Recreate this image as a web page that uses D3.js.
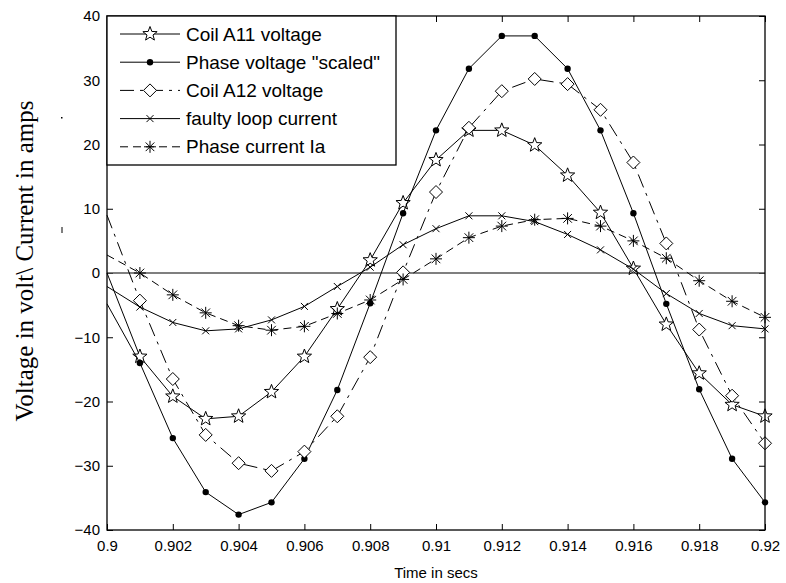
<!DOCTYPE html>
<html lang="en">
<head>
    <meta charset="UTF-8">
    <title>Coil voltages and currents</title>
    <script src="https://d3js.org/d3.v7.min.js"></script>
    <style>
        body { margin: 0; background: white; }
        svg { display: block; }
        .tick text { font-family: Arial, "Liberation Sans", sans-serif; font-size: 15px; fill: #000; }
        .legend text { font-family: Arial, "Liberation Sans", sans-serif; font-size: 19px; }
    </style>
</head>
<body>
<svg id="chart"></svg>
<script>
    // time axis (secs)
    const time = [0.900, 0.901, 0.902, 0.903, 0.904, 0.905, 0.906, 0.907, 0.908, 0.909, 0.910,
                  0.911, 0.912, 0.913, 0.914, 0.915, 0.916, 0.917, 0.918, 0.919, 0.920];

    const coilA11 = [0.0, -13.0, -19.2, -22.7, -22.3, -18.5, -13.0, -5.6, 2.0, 10.9, 17.6,
                     22.2, 22.2, 19.9, 15.2, 9.4, 0.7, -8.0, -15.6, -20.5, -22.3];
    const phaseVoltage = [-4.8, -14.0, -25.7, -34.1, -37.6, -35.7, -28.9, -18.2, -4.7, 9.3, 22.2,
                          31.8, 36.9, 36.9, 31.8, 22.2, 9.3, -4.8, -18.1, -28.9, -35.7];
    const coilA12 = [9.0, -4.3, -16.5, -25.2, -29.6, -30.8, -27.8, -22.3, -13.1, 0.1, 12.6,
                     22.6, 28.3, 30.2, 29.4, 25.4, 17.2, 4.6, -8.8, -19.1, -26.5];
    const faultyLoop = [-2.1, -5.3, -7.7, -9.0, -8.7, -7.3, -5.2, -2.1, 0.9, 4.4, 6.9,
                        8.9, 8.9, 8.0, 6.0, 3.6, 0.6, -3.2, -6.3, -8.2, -8.7];
    const phaseCurrent = [2.8, 0.0, -3.4, -6.2, -8.2, -8.9, -8.3, -6.3, -4.2, -1.0, 2.2,
                          5.5, 7.3, 8.3, 8.5, 7.3, 5.0, 2.3, -1.2, -4.4, -6.9];

    const xTicks = [0.9, 0.902, 0.904, 0.906, 0.908, 0.91, 0.912, 0.914, 0.916, 0.918, 0.92];
    const yTicks = [-40, -30, -20, -10, 0, 10, 20, 30, 40];

    const seriesNames = ['Coil A11 voltage', 'Phase voltage "scaled"', 'Coil A12 voltage',
                         'faulty loop current', 'Phase current Ia'];

    // marker shapes
    function starPath(r) {
        const pts = [];
        for (let i = 0; i < 10; i++) {
            const rr = i % 2 === 0 ? r : r * 0.42;
            const a = -Math.PI / 2 + i * Math.PI / 5;
            pts.push([Math.cos(a) * rr, Math.sin(a) * rr]);
        }
        return 'M' + pts.map(p => p[0].toFixed(2) + ',' + p[1].toFixed(2)).join('L') + 'Z';
    }
    function diamondPath(r) { return `M0,${-r}L${r},0L0,${r}L${-r},0Z`; }
    function xPath(r) { return `M${-r},${-r}L${r},${r}M${-r},${r}L${r},${-r}`; }
    function asteriskPath(r) {
        const d = r * 0.72;
        return `M0,${-r}L0,${r}M${-r},0L${r},0M${-d},${-d}L${d},${d}M${-d},${d}L${d},${-d}`;
    }

    const series = [
        { name: seriesNames[0], values: coilA11, dash: null, marker: 'star' },
        { name: seriesNames[1], values: phaseVoltage, dash: null, marker: 'dot' },
        { name: seriesNames[2], values: coilA12, dash: '14,6,3,6', marker: 'diamond' },
        { name: seriesNames[3], values: faultyLoop, dash: null, marker: 'x' },
        { name: seriesNames[4], values: phaseCurrent, dash: '8,5', marker: 'asterisk' }
    ];

    const width = 786, height = 583;
    const margin = { left: 107, right: 21, top: 16, bottom: 53 };

    const svg = d3.select('#chart').attr('width', width).attr('height', height);

    const x = d3.scaleLinear().domain([0.9, 0.92]).range([margin.left, width - margin.right]);
    const y = d3.scaleLinear().domain([-40, 40]).range([height - margin.bottom, margin.top]);

    const fmt = d => String(+d.toFixed(3));

    // axes with inward ticks
    svg.append('g')
        .attr('transform', `translate(0,${y(-40)})`)
        .call(d3.axisBottom(x).tickValues(xTicks).tickFormat(fmt).tickSizeInner(-6).tickSizeOuter(0).tickPadding(10));
    svg.append('g')
        .attr('transform', `translate(0,${y(40)})`)
        .call(d3.axisTop(x).tickValues(xTicks).tickFormat('').tickSizeInner(-6).tickSizeOuter(0));
    svg.append('g')
        .attr('transform', `translate(${x(0.9)},0)`)
        .call(d3.axisLeft(y).tickValues(yTicks).tickFormat(d3.format('d')).tickSizeInner(-6).tickSizeOuter(0).tickPadding(7));
    svg.append('g')
        .attr('transform', `translate(${x(0.92)},0)`)
        .call(d3.axisRight(y).tickValues(yTicks).tickFormat('').tickSizeInner(-6).tickSizeOuter(0));

    svg.selectAll('.domain').remove();
    svg.selectAll('.tick line').attr('stroke', '#000');

    // zero line
    svg.append('line')
        .attr('x1', x(0.9)).attr('x2', x(0.92))
        .attr('y1', y(0)).attr('y2', y(0))
        .attr('stroke', '#555').attr('stroke-width', 1.3);

    const line = d3.line().x((d, i) => x(time[i])).y(d => y(d));

    function drawMarker(sel, kind) {
        if (kind === 'dot') {
            sel.append('circle').attr('r', 3.2).attr('fill', '#000');
        } else if (kind === 'star') {
            sel.append('path').attr('d', starPath(7.5)).attr('fill', 'white').attr('stroke', '#000').attr('stroke-width', 1);
        } else if (kind === 'diamond') {
            sel.append('path').attr('d', diamondPath(6.5)).attr('fill', 'white').attr('stroke', '#000').attr('stroke-width', 1);
        } else if (kind === 'x') {
            sel.append('path').attr('d', xPath(3.5)).attr('fill', 'none').attr('stroke', '#000').attr('stroke-width', 1);
        } else if (kind === 'asterisk') {
            sel.append('path').attr('d', asteriskPath(6)).attr('fill', 'none').attr('stroke', '#000').attr('stroke-width', 1);
        }
    }

    const plot = svg.append('g');
    series.forEach(s => {
        plot.append('path')
            .datum(s.values)
            .attr('d', line)
            .attr('fill', 'none')
            .attr('stroke', '#000')
            .attr('stroke-width', 1)
            .attr('stroke-dasharray', s.dash);
        // the original shows no marker on the left axis edge
        plot.selectAll(null)
            .data(s.values.map((v, i) => ({ t: time[i], v })).filter(d => d.t > 0.9))
            .enter().append('g')
            .attr('transform', d => `translate(${x(d.t)},${y(d.v)})`)
            .each(function() { drawMarker(d3.select(this), s.marker); });
    });

    // frame
    svg.append('rect')
        .attr('x', x(0.9)).attr('y', y(40))
        .attr('width', x(0.92) - x(0.9)).attr('height', y(-40) - y(40))
        .attr('fill', 'none').attr('stroke', '#000').attr('stroke-width', 1.3);

    // legend
    const legend = svg.append('g').attr('class', 'legend');
    legend.append('rect')
        .attr('x', x(0.9)).attr('y', y(40))
        .attr('width', 289).attr('height', 149)
        .attr('fill', 'white').attr('stroke', '#000').attr('stroke-width', 1.3);
    series.forEach((s, i) => {
        const ly = 34 + i * 28.2;
        const row = legend.append('g').attr('transform', `translate(0,${ly})`);
        row.append('line')
            .attr('x1', 120).attr('x2', 180).attr('y1', 0).attr('y2', 0)
            .attr('stroke', '#000').attr('stroke-width', 1)
            .attr('stroke-dasharray', s.dash);
        drawMarker(row.append('g').attr('transform', 'translate(150,0)'), s.marker);
        row.append('text')
            .attr('x', 186).attr('y', 0).attr('dy', '0.35em')
            .text(s.name);
    });

    // axis titles
    svg.append('text')
        .attr('x', (x(0.9) + x(0.92)) / 2).attr('y', 578)
        .attr('text-anchor', 'middle')
        .attr('font-family', 'Arial, "Liberation Sans", sans-serif')
        .attr('font-size', 15)
        .text('Time in secs');

    svg.append('text')
        .attr('transform', 'translate(33,261) rotate(-90)')
        .attr('text-anchor', 'middle')
        .attr('font-family', '"Liberation Serif", "Times New Roman", serif')
        .attr('font-size', 25)
        .text('Voltage in volt\\ Current in amps');

    // small stray marks beside the y label in the original
    svg.append('rect').attr('x', 61).attr('y', 117).attr('width', 1.5).attr('height', 1.5).attr('fill', '#000');
    svg.append('rect').attr('x', 61.5).attr('y', 227).attr('width', 1).attr('height', 6).attr('fill', '#000');
</script>
</body>
</html>
